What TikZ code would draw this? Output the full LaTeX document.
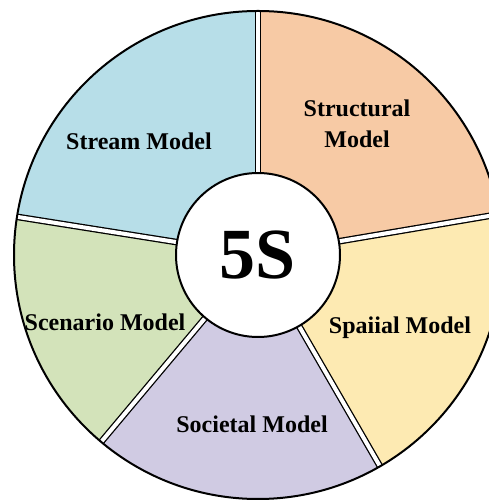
\documentclass[tikz,border=0pt]{standalone}
\usepackage{fontspec}
\setmainfont{Liberation Serif}
\definecolor{streamblue}{HTML}{B7DEE8}
\definecolor{structorange}{HTML}{F7CAA5}
\definecolor{spatialyellow}{HTML}{FDEAB2}
\definecolor{societalpurple}{HTML}{D0CBE3}
\definecolor{scenariogreen}{HTML}{D3E3BA}

\begin{document}
\begin{tikzpicture}[x=1pt,y=1pt,
  modelname/.style={font=\bfseries\fontsize{24}{31}\selectfont,align=center},
  gap/.style={double=white,double distance=4pt,line width=1.3pt}]
\useasboundingbox (0,0) rectangle (489,500);
\begin{scope}[shift={(258,245)}]
% sectors
\foreach \a/\b/\c in {90/171/streamblue,171/230/scenariogreen,230/300/societalpurple,300/369.6/spatialyellow,9.6/90/structorange}
  \fill[\c] (0,0) -- (\a:244) arc[start angle=\a,end angle=\b,radius=244] -- cycle;
% white gaps
\foreach \a in {90,171,230,300,9.6}
  \draw[gap] (0,0) -- (\a:244);
\draw[line width=2pt] (0,0) circle[radius=244];
% centre
\node[circle,draw,line width=2pt,fill=white,minimum size=164pt,inner sep=0pt,
  font=\bfseries\fontsize{72}{72}\selectfont] (core) at (0,0) {5S};
% labels
\node[modelname] (stream) at (-119,114) {Stream Model};
\node[modelname] (structural) at (99,131) {Structural\\Model};
\node[modelname] (scenario) at (-153,-67) {Scenario Model};
\node[modelname] (spatial) at (142,-73) {Spaiial Model};
\node[modelname] (societal) at (-6,-169) {Societal Model};
\end{scope}
\end{tikzpicture}
\end{document}
